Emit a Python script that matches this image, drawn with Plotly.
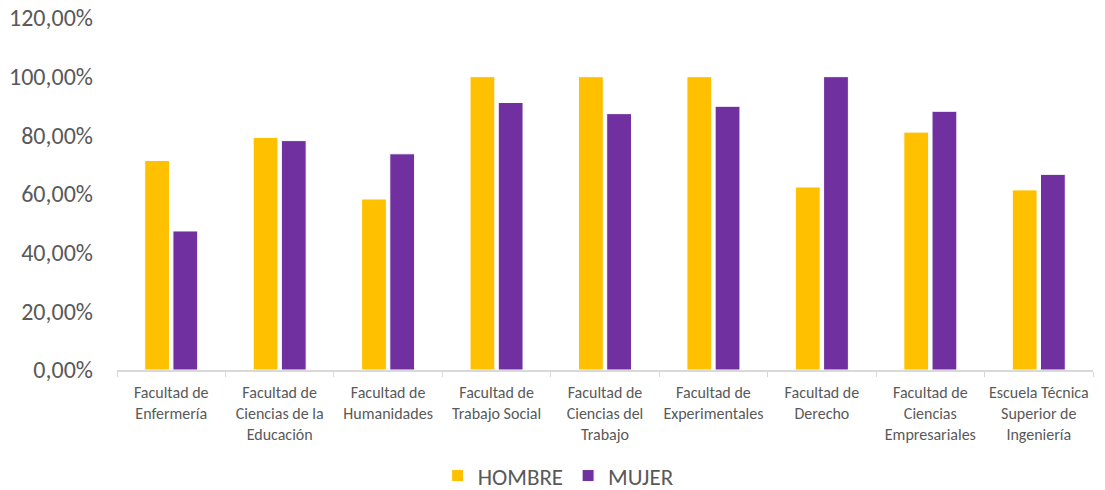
import plotly.graph_objects as go

facultades = [
    "Facultad de<br>Enfermería",
    "Facultad de<br>Ciencias de la<br>Educación",
    "Facultad de<br>Humanidades",
    "Facultad de<br>Trabajo Social",
    "Facultad de<br>Ciencias del<br>Trabajo",
    "Facultad de<br>Experimentales",
    "Facultad de<br>Derecho",
    "Facultad de<br>Ciencias<br>Empresariales",
    "Escuela Técnica<br>Superior de<br>Ingeniería",
]
hombre = [0.7143, 0.793, 0.583, 1.0, 1.0, 1.0, 0.624, 0.811, 0.614]
mujer = [0.474, 0.782, 0.737, 0.912, 0.874, 0.899, 1.0, 0.882, 0.667]
ticks_y = [0, 0.2, 0.4, 0.6, 0.8, 1.0, 1.2]

fuente = "'Liberation Sans Narrow', Carlito, Calibri, sans-serif"

fig = go.Figure()
fig.add_trace(go.Bar(
    x=facultades, y=hombre, name="HOMBRE",
    marker=dict(color="#FFC000", line=dict(color="white", width=1)),
))
fig.add_trace(go.Bar(
    x=facultades, y=mujer, name="MUJER",
    marker=dict(color="#7030A0", line=dict(color="white", width=1)),
))

# la página deja 8 px de margen, por eso el lienzo es algo menor que la ventana
fig.update_layout(
    width=1097, height=482,
    barmode="group", bargap=0.48, bargroupgap=0.12,
    separators=", ",
    plot_bgcolor="white", paper_bgcolor="white",
    font=dict(family=fuente, color="#595959"),
    margin=dict(l=109, r=12, t=10, b=120, autoexpand=False),
    xaxis=dict(
        automargin=False,
        showline=True, linecolor="#d9d9d9", linewidth=1.5,
        ticks="outside", tickson="boundaries", tickcolor="#d9d9d9", ticklen=5,
        tickfont=dict(size=16, color="#595959"), tickangle=0,
        ticklabelstandoff=7,
    ),
    yaxis=dict(
        automargin=False,
        range=[0, 1.2], tickvals=ticks_y, tickformat=".2%",
        showgrid=False, zeroline=False, showline=False,
        tickfont=dict(size=24, color="#595959"), ticklabelstandoff=23,
        ticklabeloverflow="allow",
    ),
    legend=dict(
        orientation="h", x=0.452, xanchor="center", y=-0.30, yanchor="middle",
        font=dict(size=23, color="#595959"), itemwidth=30,
    ),
)

fig.write_html("out.html")
